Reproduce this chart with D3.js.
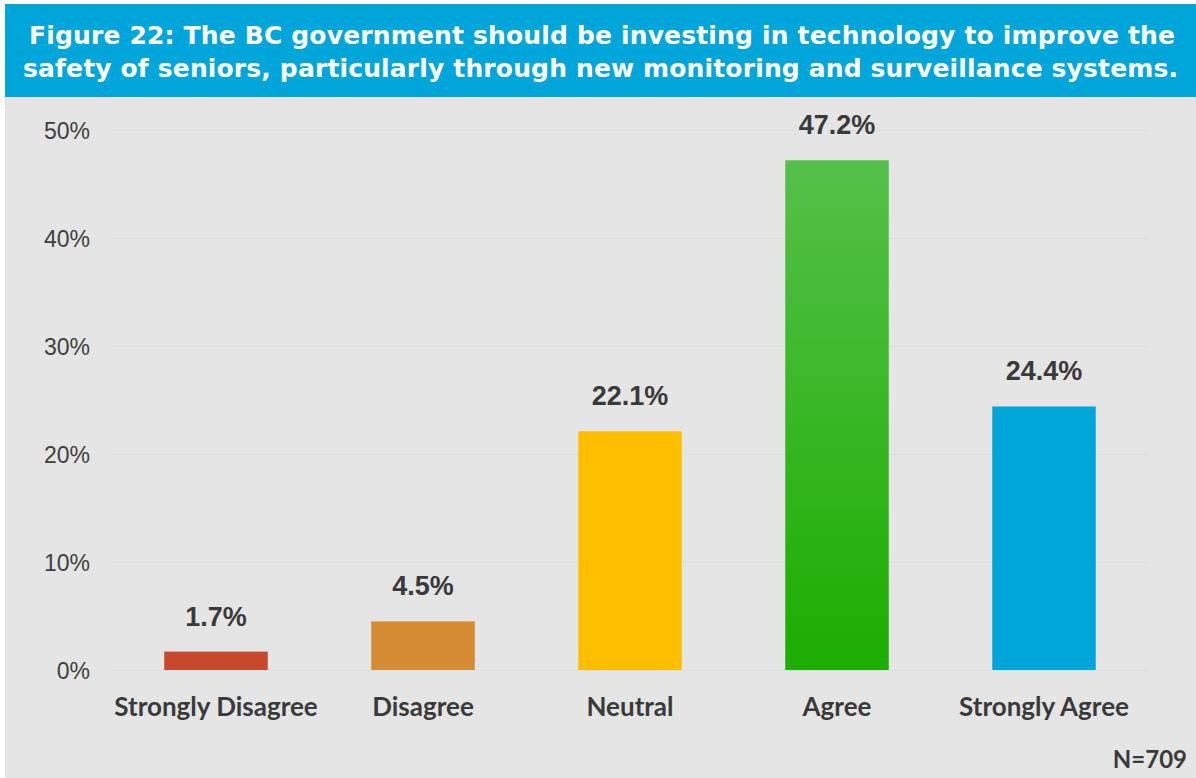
<!DOCTYPE html>
<html>
<head>
<meta charset="utf-8">
<script src="https://cdn.jsdelivr.net/npm/d3@7"></script>
<style>
  html, body { margin: 0; padding: 0; background: #ffffff; }
  svg { display: block; }
</style>
</head>
<body>
<svg id="chart" width="1196" height="778"></svg>
<script>
// Survey responses (percent of respondents)
const categories = ["Strongly Disagree", "Disagree", "Neutral", "Agree", "Strongly Agree"];
const values = [1.7, 4.5, 22.1, 47.2, 24.4];
const barColors = ["#c8482c", "#d58b31", "#fdbf00", "url(#agreeGrad)", "#00a6d9"];
const yTicks = [0, 10, 20, 30, 40, 50];
const titleLines = [
  "Figure 22: The BC government should be investing in technology to improve the",
  "safety of seniors, particularly through new monitoring and surveillance systems."
];
const sampleNote = "N=709";

const W = 1196, H = 778;
const svg = d3.select("#chart");

// Green gradient for the "Agree" bar
const defs = svg.append("defs");
const grad = defs.append("linearGradient")
  .attr("id", "agreeGrad").attr("x1", 0).attr("y1", 0).attr("x2", 0).attr("y2", 1);
grad.append("stop").attr("offset", "0%").attr("stop-color", "#55c04a");
grad.append("stop").attr("offset", "100%").attr("stop-color", "#1cad00");

// Header band and panel background
svg.append("rect").attr("x", 5).attr("y", 97).attr("width", W - 5).attr("height", H - 97)
  .attr("fill", "#e5e5e5");
svg.append("rect").attr("x", 5).attr("y", 4).attr("width", W - 5).attr("height", 93)
  .attr("fill", "#00a6d9");

// Two-line title, each line stretched to its set width
const titleSpans = [[29, 1146], [23, 1155]];
titleLines.forEach((t, i) => {
  svg.append("text")
    .attr("x", titleSpans[i][0]).attr("y", 44 + i * 33)
    .attr("textLength", titleSpans[i][1])
    .attr("lengthAdjust", "spacing")
    .attr("fill", "#ffffff")
    .style("font-family", "'DejaVu Sans', Verdana, sans-serif")
    .style("font-weight", "bold")
    .style("font-size", "25px")
    .text(t);
});

// Scales
const x = d3.scaleBand().domain(categories).range([112.5, 1147.5]).paddingInner(0.5).paddingOuter(0.25);
const y = d3.scaleLinear().domain([0, 50]).range([670, 130]);

// Gridlines and y-axis labels
const yAxis = d3.axisLeft(y).tickValues(yTicks).tickSize(-(1147 - 112)).tickFormat(d => d + "%").tickPadding(22);
const yg = svg.append("g").attr("transform", "translate(112,0)").call(yAxis);
yg.select(".domain").remove();
yg.selectAll(".tick line").attr("stroke", "#dae1ea").attr("stroke-width", 1.5);
yg.selectAll(".tick text")
  .attr("fill", "#404040")
  .style("font-family", "'Liberation Sans', Arial, sans-serif")
  .style("font-size", "23px")
  .attr("dy", "0.36em");

// Bars
const data = categories.map((c, i) => ({ c, v: values[i], color: barColors[i] }));
svg.append("g").selectAll("rect").data(data).join("rect")
  .attr("x", d => x(d.c))
  .attr("width", x.bandwidth())
  .attr("y", d => y(d.v))
  .attr("height", d => y(0) - y(d.v))
  .attr("fill", d => d.color);

// Value labels
svg.append("g").selectAll("text").data(data).join("text")
  .attr("x", d => x(d.c) + x.bandwidth() / 2)
  .attr("y", d => y(d.v) - 26)
  .attr("text-anchor", "middle")
  .attr("fill", "#3a3a3a")
  .style("font-family", "'Liberation Sans', Arial, sans-serif")
  .style("font-weight", "bold")
  .style("font-size", "27px")
  .text(d => d.v.toFixed(1) + "%");

// Category labels
const xAxis = d3.axisBottom(x).tickSize(0).tickPadding(0);
const xg = svg.append("g").attr("transform", "translate(0,670)").call(xAxis);
xg.select(".domain").remove();
xg.selectAll(".tick text")
  .attr("y", 46).attr("dy", 0)
  .attr("fill", "#3a3a3a")
  .style("font-family", "Lato, 'Open Sans', sans-serif")
  .style("font-weight", "bold")
  .style("font-size", "26px");

// Sample size note
svg.append("text")
  .attr("x", 1187).attr("y", 768)
  .attr("text-anchor", "end")
  .attr("fill", "#3a3a3a")
  .style("font-family", "Lato, 'Open Sans', sans-serif")
  .style("font-weight", "bold")
  .style("font-size", "24px")
  .text(sampleNote);
</script>
</body>
</html>
